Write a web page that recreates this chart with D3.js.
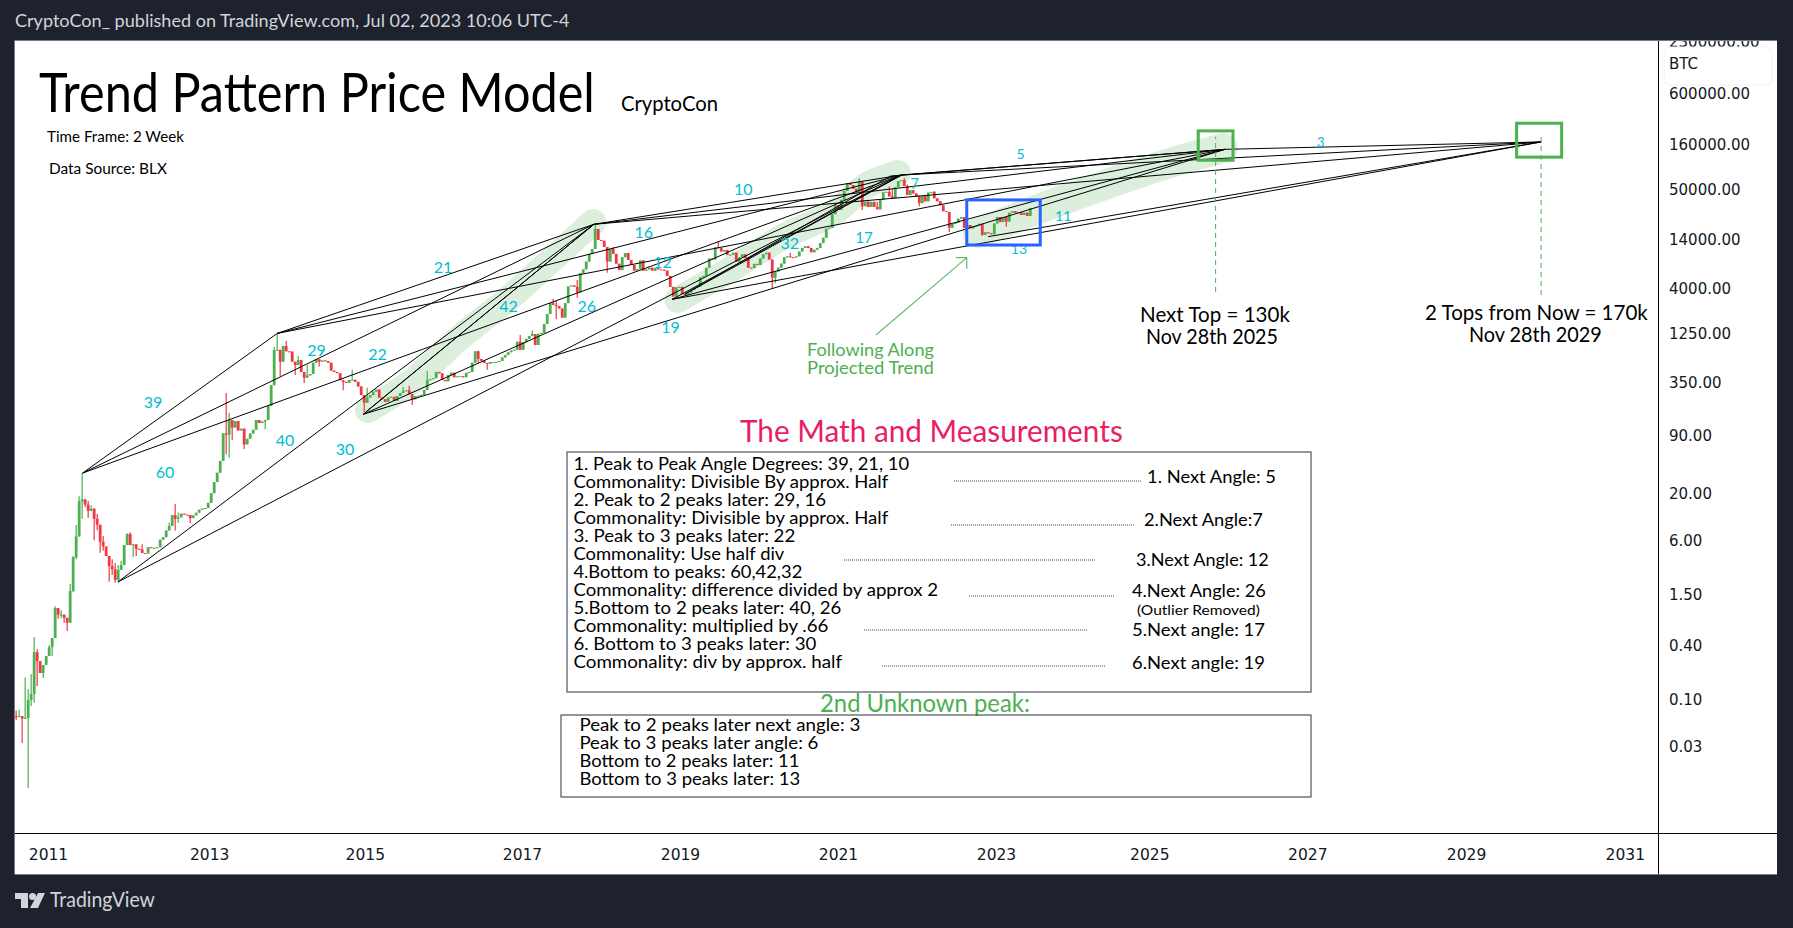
<!DOCTYPE html>
<html><head><meta charset="utf-8">
<style>html,body{margin:0;padding:0;background:#1e222d;overflow:hidden}svg{display:block}</style>
<script src="https://cdn.jsdelivr.net/npm/d3@7"></script></head><body>
<svg id="c" width="1793" height="928"></svg>
<script>
// ---------- data ----------
const firstBarYear = 2010.597, barsPerYear = 26.33; // two-week bars
const closes = [
.065,.066,.062,.063,.1,.1165,.343,.272,.2,.246,
.31,.39,.493,1.065,.9,.9,.83,.73,1.65,3.93,
6.74,16.6,17.5,15.3,13,13.7,10.6,9.1,5.88,5.2,
4.07,3.14,2.9,2.2,2.85,3.22,5.39,7.16,5.39,5.5,
4.9,4.8,4.4,4.35,5.1,5.0,5.02,5.1,6.2,6.6,
7.85,8.8,11.68,10.6,11,12.1,11.8,11.7,10.8,11.6,
12.4,13.4,13.8,14,16,20.5,27.3,34.7,47,95.6,
92.5,135,111,131,103,108,72,83,95,105,
135,125,130,135,194,330,815,820,605,905,
790,785,605,555,630,465,400,425,440,590,
645,605,625,615,590,480,465,450,375,360,
350,378,380,360,320,256,210,240,256,280,
295,240,230,215,240,245,220,250,270,283,
290,262,230,250,252,258,292,378,385,395,
465,450,378,365,429,455,405,415,416,405,
455,465,590,790,650,620,585,575,600,600,
602,615,675,718,770,805,825,1010,820,1000,
1090,1170,1230,929,1240,1270,1600,2060,2730,2600,
2530,2380,1880,2730,4200,4300,4150,3600,5900,6500,
7950,9700,11000,18400,13900,13600,11600,7950,11000,9700,
7530,6400,8900,9900,8300,7300,6300,6550,8200,6300,
6500,6800,6300,6700,6500,6450,6300,5500,4150,3240,
4100,4150,3440,3365,3580,3860,4080,4180,5300,5500,
6800,8600,8400,11500,11300,10300,10750,9400,9500,10000,
7950,8900,9600,8700,6800,6750,7500,7290,8600,9600,
10000,8400,5250,6150,6800,7550,8900,9100,8900,8850,
9100,10300,11300,11800,11300,10100,10800,11300,12800,14700,
18500,19000,26900,34000,30000,39000,49000,60000,57000,52000,
47000,62000,33000,37000,32500,37000,32500,30500,39000,47500,
48000,42500,40500,54000,63000,64500,55500,44200,50000,46000,
42300,35800,43000,37500,47000,47800,40500,37500,34000,29100,
28500,19000,21000,21500,24000,25000,19000,20400,18700,19800,
20000,21000,15800,16900,16500,16100,21200,25100,22000,25000,
22300,28000,29100,28000,28400,26400,28000,25700,31500];
const wickHighs = [[1,.0764],[2,.0785],[4,.178],[5,.1326],[6,.195],[7,.505],[8,.371],[12,.41],[14,1.12],[16,1.01],[19,1.98],[20,4.07],[21,9.03],[22,19],[23,34.2],[25,16.8],[26,15],[27,14],[28,12],[30,6.8],[33,3.75],[34,3.4],[35,3.22],[36,3.6],[38,7.3],[39,7.5],[43,5.5],[52,9.6],[54,15.5],[55,12.5],[71,270],[72,163],[87,880],[88,1230],[91,1040],[95,700],[98,555],[113,490],[118,310],[130,315],[132,325],[138,480],[155,800],[169,1200],[173,1360],[180,3030],[181,2900],[188,4950],[194,20400],[195,18000],[200,11600],[235,13400],[259,10000],[282,68000],[285,38000],[288,37000],[292,55000],[293,52000],[297,68500],[298,58000],[302,44000],[307,49000]];
const wickLows = [[1,.06],[3,.033],[5,.0104],[6,.0856],[7,.093],[8,.143],[10,.176],[13,.31],[15,.81],[16,.825],[17,.73],[18,.59],[20,1.6],[21,3.75],[22,6.7],[23,10.6],[24,14.3],[25,10.9],[27,6.1],[28,7.9],[29,4.42],[30,4.65],[32,2.1],[33,2.49],[34,2.04],[35,2.04],[40,3.93],[41,4.07],[54,7.85],[55,9.5],[59,9.5],[71,56],[72,51],[73,80],[77,64],[84,106],[89,415],[94,429],[97,350],[102,535],[110,290],[117,165],[133,198],[155,590],[158,490],[181,1800],[188,3130],[198,5950],[253,3930],[254,4550],[283,30000],[302,33000],[312,17000],[323,15500],[331,19500]];

const priceTicks = [2300000,600000,160000,50000,14000,4000,1250,350,90,20,6,1.5,.4,.1,.03];
const yearTickDates = [2011,2013.04,2015.01,2017,2019,2021,2023,2024.94,2026.94,2028.95,2030.96];
const yearTickLabels = ["2011","2013","2015","2017","2019","2021","2023","2025","2027","2029","2031"];

// anchor points of the trend lines: [year, price]
const P1=[2011.438,34.4],B1=[2011.89,2.1],P2=[2013.903,1254],B2=[2014.99,156],B2b=[2015.02,165],
      P3=[2017.91,20770],B3=[2018.90,3010],B3b=[2019.06,3440],P4=[2021.806,73900],P4b=[2021.667,72000],
      B4=[2022.90,15100],P5=[2025.90,143000],P6=[2029.90,173000];
const trendLines = [[P1,P2],[P1,P3],[P1,P4],[P2,P3],[P2,P4],[P2,P5],[P3,P4],[P3,P5],[P3,P6],[P4,P5],[P4b,P5],[P4,P6],[P5,P6],
  [B1,P3],[B1,P4],[B2,P3],[B2b,P3],[B2,P4],[B2,P5],[B3,P4],[B3b,P4],[B3b,P4b],[B3,P5],[B3,P6],[B4,P6]];

const brushBands = [
 {w:26,pts:[[2015.05,174],[2015.58,350],[2016.22,1140],[2016.81,2960],[2017.44,9420],[2017.90,22000]]},
 {w:26,pts:[[2018.97,2960],[2019.67,6750],[2020.30,14980],[2020.94,27800],[2021.37,57100],[2021.76,77800]]},
 {w:30,pts:[[2022.77,16600],[2023.51,30000],[2024.27,52900],[2025.04,90800],[2025.87,148000]]}];

const angleLabels = [["39",2012.33,214,16],["60",2012.48,35.3,16],["21",2016.0,6800,16],["29",2014.40,817,16],["40",2014.0,80.4,16],["22",2015.17,737,16],["30",2014.76,63.9,16],["42",2016.83,2530,16],["26",2017.82,2530,16],["16",2018.54,17000,16],["12",2018.78,7870,16],["19",2018.88,1478,16],["10",2019.80,51500,16],["32",2020.39,12640,16],["7",2021.97,58600,15],["17",2021.33,14600,15],["5",2023.31,126900,14],["13",2023.29,11000,14],["11",2023.85,25700,14],["3",2027.11,171000,13]];

const tableLeft = [
 "1. Peak to Peak Angle Degrees: 39, 21, 10","Commonality: Divisible By approx. Half","2. Peak to 2 peaks later: 29, 16","Commonality: Divisible by approx. Half","3. Peak to 3 peaks later: 22","Commonality: Use half div","4.Bottom to peaks: 60,42,32","Commonality: difference divided by approx 2","5.Bottom to 2 peaks later: 40, 26","Commonality: multiplied by .66","6. Bottom to 3 peaks later: 30","Commonality: div by approx. half"];
const tableLeftWidths = [336,315,253,315,222,211,229,365,268,255,243,269];
const tableRight = [["1. Next Angle: 5",1147,129,483,17],["2.Next Angle:7",1144,119,526,17],["3.Next Angle: 12",1136,133,566,17],["4.Next Angle: 26",1132,134,597,16.5],["(Outlier Removed)",1137,123,615,14],["5.Next angle: 17",1132,133,636,16.5],["6.Next angle: 19",1132,133,669,17]];
const dotted = [[954,1141,481],[951,1135,525],[844,1096,560],[969,1114,596],[864,1087,630],[882,1105,666]];
const table2 = ["Peak to 2 peaks later next angle: 3","Peak to 3 peaks later angle: 6","Bottom to 2 peaks later: 11","Bottom to 3 peaks later: 13"];
const table2Widths = [281,239,220,221];

// ---------- drawing ----------
const W=1793,H=928, L=15,R=1777,T=41,B=874,AX=1658,AY=833;
const svg=d3.select("#c");
const FONT="Lato, 'Noto Sans', sans-serif", AXF="'DejaVu Sans', sans-serif";
const x=d3.scaleLinear().domain([2011,2031]).range([48,1628]);
const y=d3.scaleLog().domain([0.00326,2325000]).range([AY,T]);
const px=p=>x(p[0]), py=p=>y(p[1]);
const defs=svg.append("defs");
defs.append("clipPath").attr("id","plot").append("rect").attr("x",L).attr("y",T).attr("width",AX-L).attr("height",AY-T);
defs.append("clipPath").attr("id","pax").append("rect").attr("x",AX).attr("y",T).attr("width",R-AX).attr("height",AY-T);

svg.append("rect").attr("width",W).attr("height",H).attr("fill","#1e222d");
svg.append("rect").attr("x",L).attr("y",T).attr("width",R-L).attr("height",B-T).attr("fill","#fff");
svg.append("path").attr("d",`M${L-.5},${B+.5}V${T-.5}H${R}`).attr("fill","none").attr("stroke","#787b86");
svg.append("path").attr("d",`M${L},${B+.5}H${R}`).attr("fill","none").attr("stroke","#787b86");

// real text, squeezed horizontally to the width it has in the reference
function txt(g,s,xp,yp,size,fill,w){
  const t=g.append("text").attr("font-family",FONT).attr("font-size",size).attr("fill",fill).text(s);
  const n=t.node().getComputedTextLength();
  t.attr("transform",`translate(${xp},${yp}) scale(${w/n},1)`);
  return t;
}
txt(svg,"CryptoCon_ published on TradingView.com, Jul 02, 2023 10:06 UTC-4",15,27,17,"#d1d4dc",555);

const plot=svg.append("g").attr("clip-path","url(#plot)");
// brush bands
const bandLine=d3.line().x(px).y(py).curve(d3.curveCatmullRom);
plot.selectAll("path.band").data(brushBands).join("path").attr("class","band").attr("d",d=>bandLine(d.pts))
  .attr("fill","none").attr("stroke","#4caf50").attr("stroke-opacity",.2).attr("stroke-width",d=>d.w).attr("stroke-linecap","round").attr("stroke-linejoin","round");

// candles
const hi=new Map(wickHighs), lo=new Map(wickLows);
const bars=closes.map((c,k)=>{const i=k+1,o=k?closes[k-1]:.066;
  return {t:firstBarYear+k/barsPerYear,o,c,h:Math.max(o,c,hi.get(i)||0),l:Math.min(o,c,lo.get(i)||Infinity)}});
const col=d=>d.c>=d.o?"#4caf50":"#f23645";
const cg=plot.append("g");
cg.selectAll("line").data(bars).join("line")
  .attr("x1",d=>x(d.t)).attr("x2",d=>x(d.t)).attr("y1",d=>y(d.h)).attr("y2",d=>y(d.l)).attr("stroke",col).attr("stroke-width",1.2);
cg.selectAll("rect").data(bars).join("rect")
  .attr("x",d=>x(d.t)-1.4).attr("width",2.8)
  .attr("y",d=>Math.min(y(d.o),y(d.c))).attr("height",d=>Math.max(1,Math.abs(y(d.o)-y(d.c)))).attr("fill",col);

// trend lines
plot.append("g").selectAll("line").data(trendLines).join("line")
  .attr("x1",d=>px(d[0])).attr("y1",d=>py(d[0])).attr("x2",d=>px(d[1])).attr("y2",d=>py(d[1]))
  .attr("stroke","#000").attr("stroke-width",1);

// angle labels
plot.append("g").selectAll("text").data(angleLabels).join("text")
  .attr("x",d=>x(d[1])).attr("y",d=>y(d[2])).attr("dy",".35em").attr("text-anchor","middle")
  .attr("font-family",FONT).attr("font-size",d=>d[3]).attr("fill","#00bcd4").text(d=>d[0]);

// annotation boxes
function box(g,a,b,c,sw){g.append("rect").attr("x",x(a[0])).attr("y",y(b[1])).attr("width",x(b[0])-x(a[0])).attr("height",y(a[1])-y(b[1])).attr("fill","none").attr("stroke",c).attr("stroke-width",sw);}
box(plot,[2022.63,12190],[2023.56,38900],"#2962ff",3);
box(plot,[2025.56,108000],[2026.0,230000],"#4caf50",3);
box(plot,[2029.59,117000],[2030.16,280000],"#4caf50",3);
// dashed drops
[[2025.78,3640,198000],[2029.90,3365,207000]].forEach(d=>plot.append("line").attr("x1",x(d[0])).attr("x2",x(d[0])).attr("y1",y(d[1])).attr("y2",y(d[2])).attr("stroke","#4caf50").attr("stroke-dasharray","5 4"));
// arrow
const arrowFrom=[2021.48,1200],arrowTo=[2022.63,8800];
plot.append("path").attr("fill","none").attr("stroke","#66bb6a").attr("stroke-width",1.2)
 .attr("d",`M${px(arrowFrom)},${py(arrowFrom)}L${px(arrowTo)},${py(arrowTo)}M${px(arrowTo)-11},${py(arrowTo)}H${px(arrowTo)}V${py(arrowTo)+11}`);

// annotation text
const ann=svg.append("g");
txt(ann,"Trend Pattern Price Model",39,112,54,"#000",556);
txt(ann,"CryptoCon",621,111,21,"#000",97);
txt(ann,"Time Frame: 2 Week",47,142,15.5,"#000",137);
txt(ann,"Data Source: BLX",49,174,15.5,"#000",118);
txt(ann,"Next Top = 130k",1140,322,20.5,"#000",150);
txt(ann,"Nov 28th 2025",1146,344,20.5,"#000",132);
txt(ann,"2 Tops from Now = 170k",1425,320,20.5,"#000",223);
txt(ann,"Nov 28th 2029",1469,342,20.5,"#000",133);
txt(ann,"Following Along",807,356,16.5,"#4caf50",127);
txt(ann,"Projected Trend",807,374,16.5,"#4caf50",127);
txt(ann,"The Math and Measurements",740,442,31,"#e91e63",383);
txt(ann,"2nd Unknown peak:",820,712,25,"#4caf50",210);
ann.append("rect").attr("x",567).attr("y",452).attr("width",744).attr("height",240).attr("fill","none").attr("stroke","#50535e").attr("stroke-width",1.2);
ann.append("rect").attr("x",561).attr("y",715).attr("width",750).attr("height",82).attr("fill","none").attr("stroke","#50535e").attr("stroke-width",1.2);
tableLeft.forEach((s,k)=>txt(ann,s,573.4,470+18*k,16.5,"#000",tableLeftWidths[k]));
tableRight.forEach(d=>txt(ann,d[0],d[1],d[3],d[4],"#000",d[2]));
dotted.forEach(d=>ann.append("line").attr("x1",d[0]).attr("x2",d[1]).attr("y1",d[2]).attr("y2",d[2]).attr("stroke","#444").attr("stroke-dasharray","1 1"));
table2.forEach((s,k)=>txt(ann,s,579.4,731+18*k,16.5,"#000",table2Widths[k]));

// axes
const ga=svg.append("g").attr("clip-path","url(#pax)").append("g").attr("transform",`translate(${AX},0)`)
  .call(d3.axisRight(y).tickValues(priceTicks).tickFormat(d3.format(".2f")).tickSize(0).tickPadding(11));
ga.select(".domain").remove();
ga.selectAll("text").attr("font-family",AXF).attr("font-size",15).attr("fill","#131722");
const gb=svg.append("g").attr("transform",`translate(0,${AY})`)
  .call(d3.axisBottom(x).tickValues(yearTickDates).tickFormat((d,i)=>yearTickLabels[i]).tickSize(0).tickPadding(16));
gb.select(".domain").remove();
gb.selectAll("text").attr("font-family",AXF).attr("font-size",15.5).attr("font-weight",500).attr("fill","#131722");
svg.append("line").attr("x1",AX+.5).attr("x2",AX+.5).attr("y1",T).attr("y2",B).attr("stroke","#000");
svg.append("line").attr("x1",L).attr("x2",R).attr("y1",AY+.5).attr("y2",AY+.5).attr("stroke","#000");

// legend chip
svg.append("rect").attr("x",1664).attr("y",47).attr("width",108).attr("height",38).attr("rx",6).attr("fill","#fff").attr("fill-opacity",.9).attr("stroke","#f0f3fa").attr("stroke-width",1.2);
svg.append("text").attr("x",1669).attr("y",69).attr("font-family",AXF).attr("font-size",15).attr("fill","#131722").text("BTC");

// footer
const f=svg.append("g").attr("fill","#d1d4dc");
f.append("path").attr("d","M15,893H28V908H21V899H15ZM38,893H45L38,908H30Z");
f.append("circle").attr("cx",32.5).attr("cy",896.5).attr("r",3.5);
txt(f,"TradingView",50,907,21,"#d1d4dc",105);
</script></body></html>
